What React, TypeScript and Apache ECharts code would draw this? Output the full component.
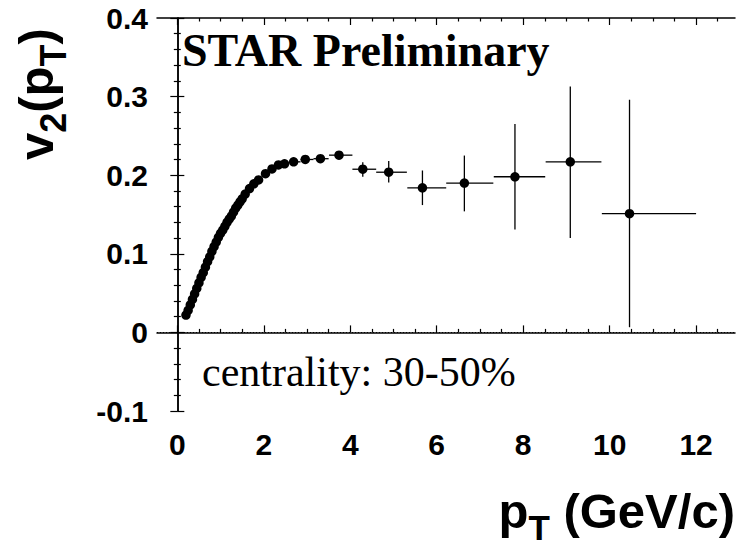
import React, { useEffect, useRef } from "react";
import * as echarts from "echarts";

// ---- data ----
const ptValues = [
  0.2, 0.25, 0.3, 0.35, 0.4, 0.45, 0.5, 0.55, 0.6, 0.65, 0.7, 0.75, 0.8, 0.85, 0.9, 0.95,
  1.0, 1.05, 1.1, 1.15, 1.2, 1.25, 1.3, 1.35, 1.4, 1.45, 1.5, 1.57, 1.67, 1.77, 1.88, 2.04,
  2.19, 2.34, 2.48, 2.69, 2.96, 3.31, 3.74, 4.29, 4.89, 5.67, 6.64, 7.81, 9.09, 10.46,
];
const v2Values = [
  0.022, 0.028, 0.035, 0.042, 0.049, 0.056, 0.063, 0.07, 0.076, 0.083, 0.09, 0.096, 0.103,
  0.109, 0.115, 0.121, 0.126, 0.13, 0.135, 0.14, 0.144, 0.148, 0.153, 0.158, 0.162, 0.166,
  0.17, 0.176, 0.183, 0.189, 0.194, 0.202, 0.208, 0.213, 0.2145, 0.217, 0.22, 0.221, 0.2255,
  0.2076, 0.2038, 0.184, 0.19, 0.198, 0.217, 0.151,
];

// error bars (points where they are visible)
const errPt = [2.69, 2.96, 3.31, 3.74, 4.29, 4.89, 5.67, 6.64, 7.81, 9.09, 10.46];
const errV2 = [0.217, 0.22, 0.221, 0.2255, 0.2076, 0.2038, 0.184, 0.19, 0.198, 0.217, 0.151];
const errXLo = [2.6, 2.85, 3.15, 3.51, 4.05, 4.6, 5.32, 6.22, 7.32, 8.52, 9.82];
const errXHi = [2.85, 3.15, 3.5, 4.05, 4.6, 5.31, 6.22, 7.31, 8.51, 9.81, 12.0];
const errYLo = [0.215, 0.218, 0.219, 0.222, 0.198, 0.1906, 0.162, 0.154, 0.131, 0.12, 0.0066];
const errYHi = [0.219, 0.222, 0.223, 0.229, 0.2165, 0.218, 0.206, 0.225, 0.265, 0.313, 0.296];

// axes
const xMin = -0.47;
const xMax = 12.9;
const xMajorTicks = [0, 2, 4, 6, 8, 10, 12];
const xMinorTicks = [0.5, 1, 1.5, 2.5, 3, 3.5, 4.5, 5, 5.5, 6.5, 7, 7.5, 8.5, 9, 9.5, 10.5, 11, 11.5, 12.5];
const yMin = -0.1;
const yMax = 0.4;
const yInterval = 0.1;

const SANS = '"Liberation Sans", Arial, sans-serif';
const SERIF = '"Liberation Serif", "Times New Roman", serif';

export default function App() {
  const ref = useRef<HTMLDivElement>(null);

  useEffect(() => {
    if (!ref.current) return;
    const chart = echarts.init(ref.current, null, { renderer: "svg" });

    const black = "#000";
    const labelStyle = {
      fontFamily: SANS,
      fontWeight: "bold" as const,
      fontSize: 30,
      color: black,
    };

    const xAxisBase = {
      type: "value" as const,
      min: xMin,
      max: xMax,
      splitLine: { show: false },
    };
    const yAxisBase = {
      type: "value" as const,
      min: yMin,
      max: yMax,
      interval: yInterval,
      splitLine: { show: false },
    };

    const errData = errPt.map((p, i) => [p, errV2[i], errXLo[i], errXHi[i], errYLo[i], errYHi[i]]);

    const option: any = {
      animation: false,
      backgroundColor: "#fff",
      grid: { left: 157, right: 1, top: 18, bottom: 135, containLabel: false },
      xAxis: [
        {
          ...xAxisBase,
          position: "bottom",
          axisLine: { show: true, lineStyle: { color: black, width: 1.5 } },
          axisTick: { show: true, inside: true, length: 7, customValues: xMajorTicks, lineStyle: { color: black, width: 1.2 } },
          axisLabel: { show: true, margin: 18, customValues: xMajorTicks, ...labelStyle },
        },
        {
          ...xAxisBase,
          position: "bottom",
          axisLine: { show: false },
          axisTick: { show: true, inside: true, length: 3.5, customValues: xMinorTicks, lineStyle: { color: black, width: 1.2 } },
          axisLabel: { show: false },
        },
        {
          ...xAxisBase,
          position: "top",
          axisLine: { show: true, lineStyle: { color: black, width: 1.5 } },
          axisTick: { show: true, inside: true, length: 7, customValues: xMajorTicks, lineStyle: { color: black, width: 1.2 } },
          axisLabel: { show: false },
        },
        {
          ...xAxisBase,
          position: "top",
          axisLine: { show: false },
          axisTick: { show: true, inside: true, length: 3.5, customValues: xMinorTicks, lineStyle: { color: black, width: 1.2 } },
          axisLabel: { show: false },
        },
      ],
      yAxis: [
        {
          ...yAxisBase,
          position: "left",
          axisLine: { show: true, lineStyle: { color: black, width: 1.5 } },
          axisTick: { show: true, inside: true, length: 7, lineStyle: { color: black, width: 1.2 } },
          minorTick: { show: true, splitNumber: 5, length: 3.5, lineStyle: { color: black, width: 1.2 } },
          axisLabel: { show: true, margin: 9, ...labelStyle },
        },
        {
          ...yAxisBase,
          position: "right",
          axisLine: { show: true, lineStyle: { color: black, width: 1.5 } },
          axisTick: { show: true, inside: true, length: 7, lineStyle: { color: black, width: 1.2 } },
          minorTick: { show: true, splitNumber: 5, length: 3.5, lineStyle: { color: black, width: 1.2 } },
          axisLabel: { show: false },
        },
      ],
      series: [
        {
          type: "custom",
          xAxisIndex: 0,
          yAxisIndex: 0,
          data: errData,
          encode: { x: [0, 2, 3], y: [1, 4, 5] },
          renderItem: (params: any, api: any) => {
            const x = api.value(0);
            const y = api.value(1);
            const c = api.coord([x, y]);
            const l = api.coord([api.value(2), y]);
            const r = api.coord([api.value(3), y]);
            const lo = api.coord([x, api.value(4)]);
            const hi = api.coord([x, api.value(5)]);
            const st = { stroke: black, lineWidth: 1.3 };
            return {
              type: "group",
              children: [
                { type: "line", shape: { x1: l[0], y1: c[1], x2: r[0], y2: c[1] }, style: st },
                { type: "line", shape: { x1: c[0], y1: lo[1], x2: c[0], y2: hi[1] }, style: st },
              ],
            };
          },
          z: 2,
        },
        {
          type: "scatter",
          xAxisIndex: 0,
          yAxisIndex: 0,
          symbol: "circle",
          symbolSize: 9.5,
          itemStyle: { color: black, opacity: 1 },
          data: ptValues.map((p, i) => [p, v2Values[i]]),
          z: 3,
          markLine: {
            silent: true,
            symbol: ["none", "none"],
            label: { show: false },
            lineStyle: { color: black, width: 1, type: [1, 2], opacity: 1 },
            data: [{ yAxis: 0 }],
          },
        },
      ],
      graphic: [
        {
          type: "text",
          x: 182,
          y: 50,
          style: {
            text: "STAR Preliminary",
            font: `bold 46px ${SERIF}`,
            fill: black,
            align: "left",
            verticalAlign: "middle",
          },
        },
        {
          type: "text",
          x: 202,
          y: 372,
          style: {
            text: "centrality: 30-50%",
            font: `42px ${SERIF}`,
            fill: black,
            align: "left",
            verticalAlign: "middle",
          },
        },
        {
          type: "text",
          x: 735,
          y: 511,
          style: {
            text: "{m|p}{s|T}{m| (GeV/c)}",
            align: "right",
            verticalAlign: "middle",
            fill: black,
            rich: {
              m: { font: `bold 49px ${SANS}`, fill: black },
              s: { font: `bold 35px ${SANS}`, fill: black, padding: [32, 0, 0, 0] },
            },
          },
        },
        {
          type: "text",
          x: 36,
          y: 160,
          rotation: Math.PI / 2,
          style: {
            text: "{m|v}{s|2}{m|(p}{s|T}{m|)}",
            align: "left",
            verticalAlign: "middle",
            fill: black,
            rich: {
              m: { font: `bold 49px ${SANS}`, fill: black },
              s: { font: `bold 36px ${SANS}`, fill: black, padding: [34, 0, 0, 0] },
            },
          },
        },
      ],
    };

    chart.setOption(option);
    return () => chart.dispose();
  }, []);

  return (
    <div
      ref={ref}
      style={{ position: "fixed", left: 0, top: 0, width: 736, height: 546, background: "#fff" }}
    />
  );
}
